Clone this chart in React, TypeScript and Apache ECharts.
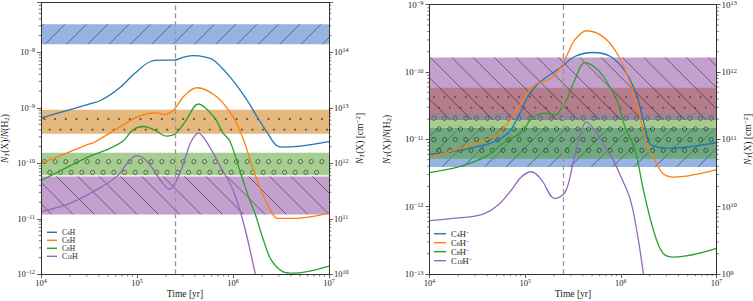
import React, { useEffect, useRef } from "react";
import * as echarts from "echarts";

// ---------------- axes / reference values ----------------
const timeMin = 1e4;
const timeMax = 1e7;
const dashTime = 2.5e5;
const leftRatioMin = 1e-12;
const leftRatioMax = 7.83e-8;
const rightRatioMin = 1e-13;
const rightRatioMax = 1e-9;
const columnFactor = 1e22; // N_T [cm^-2] = ratio x 1e22

const leftNames = ["C4H", "C6H", "C8H", "C10H"];
const rightNames = ["C4H-", "C6H-", "C8H-", "C10H-"];
const lineColors = ["#1f77b4", "#ff7f0e", "#2ca02c", "#9467bd"];
const bandColors = [
  "rgba(45,105,195,0.5)",
  "rgba(201,113,0,0.5)",
  "rgba(75,155,35,0.5)",
  "rgba(135,65,155,0.5)",
];
const bandHatches = ["/", ".", "o", "\\"];

// observed ranges (ratio to H2)
const leftBandLow = [1.4e-8, 3.4e-10, 6.1e-11, 1.2e-11];
const leftBandHigh = [3.2e-8, 9.2e-10, 1.55e-10, 5.8e-11];
const rightBandLow = [3.9e-12, 2.38e-11, 5.15e-12, 1.94e-11];
const rightBandHigh = [1.47e-11, 5.85e-11, 2.4e-11, 1.65e-10];

// ---------------- left panel: neutral radicals ----------------
const c4hTime = [1e4, 1.93e4, 2.8e4, 4.27e4, 6.5e4, 9.5e4, 1.41e5, 1.82e5, 2.4e5, 3.16e5, 3.9e5, 5.0e5, 6.3e5, 9.3e5, 1.4e6, 1.78e6, 2.29e6, 2.79e6, 3.3e6, 5.0e6, 1e7];
const c4hVal = [6.5e-10, 9.1e-10, 1.1e-9, 1.38e-9, 2.24e-9, 4.2e-9, 6.9e-9, 7.2e-9, 7.2e-9, 8.3e-9, 8.7e-9, 8.3e-9, 7.2e-9, 3.6e-9, 1.38e-9, 6.9e-10, 3.5e-10, 2.14e-10, 1.95e-10, 2.04e-10, 2.45e-10];

const c6hTime = [1e4, 1.93e4, 3.0e4, 3.6e4, 6.3e4, 9.5e4, 1.32e5, 1.58e5, 1.9e5, 2.4e5, 3.16e5, 4.2e5, 6.76e5, 1e6, 1.29e6, 1.51e6, 1.95e6, 2.45e6, 2.9e6, 4.57e6, 1e7];
const c6hVal = [1.0e-10, 1.58e-10, 2.14e-10, 2.4e-10, 4.3e-10, 6.5e-10, 7.9e-10, 8.1e-10, 7.6e-10, 9.1e-10, 1.7e-9, 2.3e-9, 1.58e-9, 6.9e-10, 2.63e-10, 1.15e-10, 3.3e-11, 1.45e-11, 1.02e-11, 1.02e-11, 1.26e-11];

const c8hTime = [1e4, 1.93e4, 3.16e4, 4.8e4, 7.1e4, 9.1e4, 1.17e5, 1.51e5, 2.04e5, 2.5e5, 3.16e5, 4.37e5, 6.3e5, 7.9e5, 9.3e5, 1.23e6, 1.45e6, 1.7e6, 2.07e6, 2.5e6, 3.3e6, 4.2e6, 1e7];
const c8hVal = [4.9e-11, 8.7e-11, 1.32e-10, 1.74e-10, 2.5e-10, 4.0e-10, 4.6e-10, 4.0e-10, 3.1e-10, 3.4e-10, 5.6e-10, 1.17e-9, 6.9e-10, 3.5e-10, 2.5e-10, 5.9e-11, 2.5e-11, 1.23e-11, 4.2e-12, 1.82e-12, 1.12e-12, 1.05e-12, 1.41e-12];

const c10hTime = [1e4, 2e4, 3.98e4, 6.3e4, 7.9e4, 1.0e5, 1.2e5, 1.41e5, 1.78e5, 2.19e5, 2.7e5, 3.16e5, 3.63e5, 4.37e5, 5.25e5, 7.4e5, 1e6, 1.29e6, 1.7e6, 1.86e6];
const c10hVal = [1.35e-11, 1.9e-11, 3.5e-11, 6.0e-11, 1.0e-10, 1.38e-10, 1.2e-10, 8.7e-11, 4.8e-11, 3.4e-11, 5.8e-11, 1.2e-10, 2.4e-10, 3.5e-10, 2.5e-10, 8.7e-11, 3.3e-11, 8.3e-12, 1.05e-12, 5.0e-13];

// ---------------- right panel: anions ----------------
const c4hmTime = [1e4, 2e4, 3.16e4, 4.5e4, 6.6e4, 8.5e4, 1.07e5, 1.38e5, 1.9e5, 2.4e5, 3.3e5, 5.1e5, 7.8e5, 1.15e6, 1.48e6, 1.78e6, 2.0e6, 2.5e6, 3.24e6, 1e7];
const c4hmVal = [6.0e-12, 6.8e-12, 7.8e-12, 8.9e-12, 1.23e-11, 2.2e-11, 4.3e-11, 6.8e-11, 9.5e-11, 1.2e-10, 1.7e-10, 1.95e-10, 1.7e-10, 9.5e-11, 4.3e-11, 1.55e-11, 8.7e-12, 7.6e-12, 7.4e-12, 8.9e-12];

const c6hmTime = [1e4, 2e4, 3.0e4, 5.25e4, 7.8e4, 1.0e5, 1.26e5, 1.74e5, 2.24e5, 2.8e5, 3.3e5, 4.37e5, 6.6e5, 9.1e5, 1.26e6, 1.58e6, 1.86e6, 2.37e6, 2.75e6, 3.55e6, 1e7];
const c6hmVal = [5.4e-12, 7.2e-12, 8.7e-12, 1.23e-11, 2.45e-11, 4.3e-11, 6.5e-11, 7.6e-11, 1.07e-10, 1.9e-10, 3.0e-10, 4.1e-10, 3.3e-10, 1.9e-10, 6.8e-11, 2.2e-11, 8.7e-12, 4.4e-12, 3.1e-12, 2.75e-12, 3.55e-12];

const c8hmTime = [1e4, 2e4, 3.8e4, 6.6e4, 9.1e4, 1.17e5, 1.62e5, 2.04e5, 2.4e5, 2.8e5, 3.3e5, 4.2e5, 5.25e5, 6.6e5, 9.1e5, 1.1e6, 1.32e6, 1.47e6, 1.72e6, 2.19e6, 2.75e6, 3.55e6, 1e7];
const c8hmVal = [3.2e-12, 3.9e-12, 5.5e-12, 9.8e-12, 1.23e-11, 2.04e-11, 2.45e-11, 2.3e-11, 2.9e-11, 4.3e-11, 7.6e-11, 1.38e-10, 1.2e-10, 8.5e-11, 3.8e-11, 1.55e-11, 8.9e-12, 5.5e-12, 1.78e-12, 4.5e-13, 2.04e-13, 1.78e-13, 2.4e-13];

const c10hmTime = [1e4, 2e4, 3.5e4, 5.25e4, 7.2e4, 9.1e4, 1.17e5, 1.48e5, 2.04e5, 2.63e5, 3.16e5, 3.63e5, 4.37e5, 5.6e5, 6.76e5, 8.3e5, 1e6, 1.26e6, 1.51e6, 1.72e6, 1.82e6];
const c10hmVal = [6.2e-13, 6.8e-13, 7.6e-13, 1.07e-12, 1.78e-12, 2.75e-12, 3.3e-12, 2.5e-12, 1.32e-12, 1.66e-12, 4.4e-12, 1.0e-11, 1.82e-11, 1.23e-11, 7.9e-12, 5.0e-12, 2.8e-12, 1.26e-12, 3.5e-13, 1.0e-13, 5.0e-14];

const leftTimes = [c4hTime, c6hTime, c8hTime, c10hTime];
const leftVals = [c4hVal, c6hVal, c8hVal, c10hVal];
const rightTimes = [c4hmTime, c6hmTime, c8hmTime, c10hmTime];
const rightVals = [c4hmVal, c6hmVal, c8hmVal, c10hmVal];

// ---------------- styling ----------------
const FONT = "'Liberation Serif', 'DejaVu Serif', serif";
const TXT = "#1a1a1a";
const AX = "#333333";
const HATCH = "rgba(0,0,0,0.55)";
const LSP = 21.33; // hatch line spacing (px)
const DSP = 10.67; // dot lattice spacing (px)

function minorTicks(d0: number, d1: number, maxV: number): number[] {
  const out: number[] = [];
  for (let d = d0; d < d1; d++) {
    for (let k = 2; k <= 9; k++) {
      const v = k * Math.pow(10, d);
      if (v < maxV) out.push(v);
    }
  }
  return out;
}

function powLabel(v: number): string {
  const lg = Math.log10(v);
  const e = Math.round(lg);
  if (Math.abs(lg - e) > 1e-6) return "";
  const s = e < 0 ? "\u2212" + String(-e) : String(e);
  return "{b|10}{s|" + s + "}";
}

const tickRich = (size: number) => ({
  b: { fontSize: size, lineHeight: 10, fontFamily: FONT, color: TXT },
  s: { fontSize: size * 0.7, lineHeight: 3, verticalAlign: "top", fontFamily: FONT, color: TXT },
});

const nameRich = {
  n: { fontSize: 9.5, lineHeight: 11, fontFamily: FONT, color: TXT },
  i: { fontSize: 9.5, lineHeight: 11, fontFamily: FONT, fontStyle: "italic", color: TXT },
  isub: { fontSize: 7, lineHeight: 5, verticalAlign: "bottom", fontFamily: FONT, fontStyle: "italic", color: TXT },
  sub: { fontSize: 7, lineHeight: 5, verticalAlign: "bottom", fontFamily: FONT, color: TXT },
  sup: { fontSize: 7, lineHeight: 4, verticalAlign: "top", fontFamily: FONT, color: TXT },
};

const ratioName = "{i|N}{isub|T}{n|(X)/}{i|N}{n|(H}{sub|2}{n|)}";
const columnName = "{i|N}{isub|T}{n|(X) [cm}{sup|\u22122}{n|]}";

function legendLabel(name: string): string {
  const m = /^C(\d+)H(-?)$/.exec(name);
  if (!m) return name;
  return "{n|C}{s|" + m[1] + "}{n|H}" + (m[2] ? "{p|\u2212}" : "");
}

const legendRich = (size: number, lh: number) => ({
  n: { fontSize: size, lineHeight: lh, fontFamily: FONT, color: TXT },
  s: { fontSize: size * 0.7, lineHeight: lh * 0.45, verticalAlign: "bottom", fontFamily: FONT, color: TXT },
  p: { fontSize: size * 0.75, lineHeight: lh * 0.4, verticalAlign: "top", fontFamily: FONT, color: TXT },
});

type Phase = { fs: number; bs: number; dx: number; dy: number };

function makeBand(color: string, hatch: string, ph: Phase) {
  return (_params: any, api: any) => {
    const lo = api.value(1);
    const hi = api.value(2);
    const a = api.coord([timeMin, hi]);
    const b = api.coord([timeMax, lo]);
    const x0 = a[0], y0 = a[1], x1 = b[0], y1 = b[1];
    const kids: any[] = [
      { type: "rect", shape: { x: x0, y: y0, width: x1 - x0, height: y1 - y0 }, style: { fill: color } },
    ];
    const hs = { stroke: HATCH, lineWidth: 0.8 };
    if (hatch === "/") {
      const cStart = Math.floor((x0 + y0 - ph.fs) / LSP) * LSP + ph.fs;
      for (let c = cStart; c <= x1 + y1 + LSP; c += LSP) {
        const xs = Math.max(x0, c - y1);
        const xe = Math.min(x1, c - y0);
        if (xe - xs > 0.3) kids.push({ type: "line", shape: { x1: xs, y1: c - xs, x2: xe, y2: c - xe }, style: hs });
      }
    } else if (hatch === "\\") {
      const cMin = x0 - y1;
      const cMax = x1 - y0;
      const cStart = Math.floor((cMin - ph.bs) / LSP) * LSP + ph.bs;
      for (let c = cStart; c <= cMax + LSP; c += LSP) {
        const xs = Math.max(x0, c + y0);
        const xe = Math.min(x1, c + y1);
        if (xe - xs > 0.3) kids.push({ type: "line", shape: { x1: xs, y1: xs - c, x2: xe, y2: xe - c }, style: hs });
      }
    } else {
      const r = hatch === "." ? 1.1 : 2.1;
      const kStart = Math.ceil((y0 - ph.dy) / DSP) - 1;
      for (let k = kStart; ph.dy + k * DSP <= y1 + DSP; k++) {
        const cy = ph.dy + k * DSP;
        if (cy - r < y0 - 0.3 || cy + r > y1 + 0.3) continue;
        const off = ((k % 2) + 2) % 2 === 0 ? ph.dx : ph.dx + DSP / 2;
        const jStart = Math.ceil((x0 - off) / DSP);
        for (let j = jStart; off + j * DSP <= x1; j++) {
          const cx = off + j * DSP;
          if (cx - r < x0 || cx + r > x1) continue;
          kids.push(
            hatch === "."
              ? { type: "circle", shape: { cx, cy, r }, style: { fill: HATCH } }
              : { type: "circle", shape: { cx, cy, r }, style: { fill: "none", stroke: HATCH, lineWidth: 0.9 } }
          );
        }
      }
    }
    return { type: "group", children: kids };
  };
}

function buildPanel(
  gi: number,
  names: string[],
  times: number[][],
  vals: number[][],
  bandLow: number[],
  bandHigh: number[],
  ratioMin: number,
  phase: Phase,
  minorY: number[]
) {
  const xi = gi * 2; // bottom axis index
  const yi = gi * 2; // left axis index
  const series: any[] = [];
  names.forEach((_n, i) => {
    series.push({
      type: "custom",
      xAxisIndex: xi,
      yAxisIndex: yi,
      silent: true,
      z: 1,
      data: [[timeMin, bandLow[i], bandHigh[i]]],
      renderItem: makeBand(bandColors[i], bandHatches[i], phase),
    });
  });
  series.push({
    type: "line",
    xAxisIndex: xi,
    yAxisIndex: yi,
    data: [],
    silent: true,
    z: 2,
    markLine: {
      silent: true,
      symbol: "none",
      label: { show: false },
      lineStyle: { color: "#9a9a9a", type: [5, 3], width: 1.3 },
      data: [{ xAxis: dashTime }],
    },
  });
  names.forEach((n, i) => {
    series.push({
      type: "line",
      name: n,
      xAxisIndex: xi,
      yAxisIndex: yi,
      data: times[i].map((t, j) => [t, vals[i][j]]),
      symbol: "none",
      showSymbol: false,
      smooth: 0.35,
      clip: true,
      lineStyle: { color: lineColors[i], width: 1.3 },
      itemStyle: { color: lineColors[i] },
      z: 4,
    });
  });
  const xMinor = minorTicks(4, 7, timeMax);
  series.push({
    type: "custom",
    xAxisIndex: xi,
    yAxisIndex: yi,
    silent: true,
    clip: false,
    z: 12,
    data: xMinor.map((t) => [t, ratioMin]),
    renderItem: (_p: any, api: any) => {
      const c = api.coord([api.value(0), api.value(1)]);
      return { type: "line", shape: { x1: c[0], y1: c[1], x2: c[0], y2: c[1] + 2.2 }, style: { stroke: AX, lineWidth: 0.7 } };
    },
  });
  series.push({
    type: "custom",
    xAxisIndex: xi,
    yAxisIndex: yi,
    silent: true,
    clip: false,
    z: 12,
    data: minorY.map((v) => [timeMin, v]),
    renderItem: (_p: any, api: any) => {
      const l = api.coord([timeMin, api.value(1)]);
      const r = api.coord([timeMax, api.value(1)]);
      return {
        type: "group",
        children: [
          { type: "line", shape: { x1: l[0] - 2.2, y1: l[1], x2: l[0], y2: l[1] }, style: { stroke: AX, lineWidth: 0.7 } },
          { type: "line", shape: { x1: r[0], y1: r[1], x2: r[0] + 2.2, y2: r[1] }, style: { stroke: AX, lineWidth: 0.7 } },
        ],
      };
    },
  });
  return series;
}

const axisCommon = {
  axisLine: { show: true, onZero: false, lineStyle: { color: AX, width: 1 } },
  axisTick: { show: true, length: 4, lineStyle: { color: AX, width: 0.8 } },
  splitLine: { show: false },
  nameMoveOverlap: false,
  z: 10,
};

export default function App() {
  const ref = useRef<HTMLDivElement>(null);
  useEffect(() => {
    if (!ref.current) return;
    const chart = echarts.init(ref.current, undefined, { renderer: "svg" });

    const leftPhase: Phase = { fs: 4, bs: 8, dx: 1.8, dy: 119 };
    const rightPhase: Phase = { fs: 11.6, bs: 10.4, dx: 7.0, dy: 118.3 };

    const series = [
      ...buildPanel(0, leftNames, leftTimes, leftVals, leftBandLow, leftBandHigh, leftRatioMin, leftPhase, minorTicks(-12, -7, leftRatioMax)),
      ...buildPanel(1, rightNames, rightTimes, rightVals, rightBandLow, rightBandHigh, rightRatioMin, rightPhase, minorTicks(-13, -9, rightRatioMax)),
    ];

    const xBottom = (gi: number) => ({
      ...axisCommon,
      type: "log",
      logBase: 10,
      gridIndex: gi,
      position: "bottom",
      min: timeMin,
      max: timeMax,
      axisLabel: { formatter: powLabel, margin: 4, rich: tickRich(8.5) },
      name: "Time [yr]",
      nameLocation: "middle",
      nameGap: 15,
      nameTextStyle: { fontFamily: FONT, fontSize: 9.5, lineHeight: 10, color: TXT },
    });
    const xTop = (gi: number) => ({
      type: "log",
      logBase: 10,
      gridIndex: gi,
      position: "top",
      min: timeMin,
      max: timeMax,
      axisLine: { show: true, onZero: false, lineStyle: { color: AX, width: 1 } },
      axisTick: { show: false },
      axisLabel: { show: false },
      splitLine: { show: false },
      z: 10,
    });
    const yAxis = (gi: number, pos: string, min: number, max: number, size: number, margin: number, name: string, gap: number) => ({
      ...axisCommon,
      type: "log",
      logBase: 10,
      gridIndex: gi,
      position: pos,
      min,
      max,
      axisLabel: { formatter: powLabel, margin, rich: tickRich(size) },
      name,
      nameLocation: "middle",
      nameRotate: 90,
      nameGap: gap,
      nameTextStyle: { rich: nameRich },
    });

    const legendBase = {
      orient: "vertical",
      padding: 0,
      itemGap: 0,
      icon: "rect",
      selectedMode: false,
      formatter: legendLabel,
    };

    const option: any = {
      animation: false,
      backgroundColor: "#ffffff",
      textStyle: { fontFamily: FONT },
      grid: [
        { left: 41, top: 2.7, width: 288, height: 271.6, containLabel: false, outerBoundsMode: "none" },
        { left: 429.5, top: 4.7, width: 287, height: 269.3, containLabel: false, outerBoundsMode: "none" },
      ],
      xAxis: [xBottom(0), xTop(0), xBottom(1), xTop(1)],
      yAxis: [
        yAxis(0, "left", leftRatioMin, leftRatioMax, 8.5, 6, ratioName, 31),
        yAxis(0, "right", leftRatioMin * columnFactor, leftRatioMax * columnFactor, 8.5, 5, columnName, 25),
        yAxis(1, "left", rightRatioMin, rightRatioMax, 9, 6, ratioName, 37),
        yAxis(1, "right", rightRatioMin * columnFactor, rightRatioMax * columnFactor, 9, 5, columnName, 26),
      ],
      legend: [
        {
          ...legendBase,
          data: leftNames,
          left: 47,
          top: 228.3,
          itemWidth: 10,
          itemHeight: 1.4,
          textStyle: { rich: legendRich(7.5, 6.7) },
        },
        {
          ...legendBase,
          data: rightNames,
          left: 434,
          top: 229.2,
          itemWidth: 12,
          itemHeight: 1.4,
          textStyle: { rich: legendRich(8.5, 8.3) },
        },
      ],
      series,
    };
    chart.setOption(option);
    return () => chart.dispose();
  }, []);
  return <div ref={ref} style={{ position: "absolute", left: 0, top: 0, width: 753, height: 301 }} />;
}
